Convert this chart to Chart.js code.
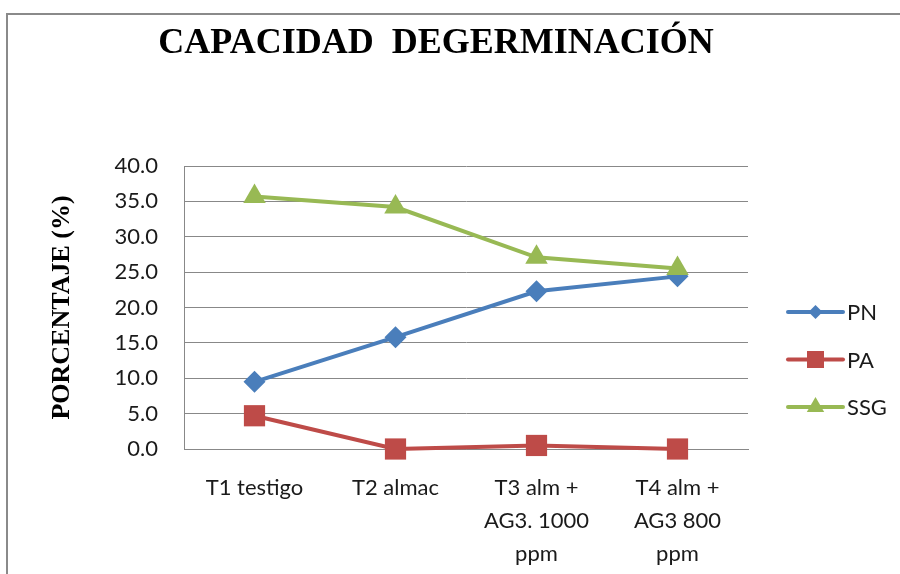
<!DOCTYPE html>
<html lang="es">
<head>
    <meta charset="UTF-8">
    <title>Capacidad de germinación</title>
    <script src="https://cdn.jsdelivr.net/npm/chart.js"></script>
    <style>
        body {
            margin: 0;
            background: #fff;
            overflow: hidden;
        }
        /* grey frame of the chart object */
        #frame {
            position: absolute;
            left: 6px;
            top: 13px;
            width: 1000px;
            height: 1000px;
            border: 2px solid #8a8a8a;
        }
        #chart {
            position: absolute;
            left: 0;
            top: 0;
        }
    </style>
</head>
<body>
    <div id="frame"></div>
    <canvas id="chart" width="900" height="574"></canvas>

    <script>
        // Data
        const categories = [
            ['T1 testigo'],
            ['T2 almac'],
            ['T3 alm +', 'AG3. 1000', 'ppm'],
            ['T4 alm +', 'AG3 800', 'ppm']
        ];
        const seriesNames = ['PN', 'PA', 'SSG'];
        const pnValues = [9.5, 15.8, 22.3, 24.4];
        const paValues = [4.7, 0.0, 0.5, 0.0];
        const ssgValues = [35.7, 34.2, 27.1, 25.5];
        const yMin = 0;
        const yMax = 40;
        const yStep = 5;

        const colors = ['#4a7ebb', '#be4b48', '#98b954'];
        const styles = ['rectRot', 'rect', 'triangle'];
        const radii = [11, 15, 13];
        const tickFont = { family: 'Lato', size: 22 };

        // small marker helper for the legend
        function marker(ctx, style, x, y, s) {
            ctx.beginPath();
            if (style === 'rectRot') {
                ctx.moveTo(x, y - s); ctx.lineTo(x + s, y);
                ctx.lineTo(x, y + s); ctx.lineTo(x - s, y);
            } else if (style === 'rect') {
                ctx.rect(x - s, y - s, 2 * s, 2 * s);
            } else {
                ctx.moveTo(x, y - s);
                ctx.lineTo(x + s * 0.87, y + s * 0.5);
                ctx.lineTo(x - s * 0.87, y + s * 0.5);
            }
            ctx.closePath();
            ctx.fill();
        }

        // title + legend drawn at fixed spots like the Excel layout
        const decor = {
            id: 'decor',
            afterDraw(chart) {
                const { ctx, chartArea } = chart;
                ctx.save();
                ctx.fillStyle = '#000';
                ctx.font = 'bold 36px "Liberation Serif"';
                ctx.textAlign = 'center';
                ctx.textBaseline = 'alphabetic';
                ctx.fillText('CAPACIDAD  DEGERMINACIÓN', 436, 53);

                const legendSizes = [7, 8.5, 10];
                chart.data.datasets.forEach((ds, i) => {
                    const y = chartArea.top + 146 + i * 47.5;
                    const x0 = chartArea.right + 40;
                    ctx.strokeStyle = ds.borderColor;
                    ctx.fillStyle = ds.borderColor;
                    ctx.lineWidth = 4;
                    ctx.lineCap = 'round';
                    ctx.beginPath();
                    ctx.moveTo(x0, y);
                    ctx.lineTo(x0 + 55, y);
                    ctx.stroke();
                    marker(ctx, ds.pointStyle, x0 + 27.5, y, legendSizes[i]);
                    ctx.fillStyle = '#1a1a1a';
                    ctx.font = '22px Lato';
                    ctx.textAlign = 'left';
                    ctx.textBaseline = 'middle';
                    ctx.fillText(ds.label, x0 + 59, y + 1);
                });
                ctx.restore();
            }
        };

        const seriesValues = [pnValues, paValues, ssgValues];
        const datasets = seriesNames.map((name, i) => ({
            label: name,
            data: seriesValues[i],
            borderColor: colors[i],
            backgroundColor: colors[i],
            pointBackgroundColor: colors[i],
            pointBorderWidth: 0,
            pointStyle: styles[i],
            pointRadius: radii[i],
            borderWidth: 4,
            tension: 0,
            clip: false,
            order: 2 - i
        }));

        new Chart(document.getElementById('chart'), {
            type: 'line',
            data: { labels: categories, datasets: datasets },
            plugins: [decor],
            options: {
                responsive: false,
                animation: false,
                layout: { padding: { top: 166, right: 152, bottom: 0, left: 47 } },
                plugins: {
                    legend: { display: false },
                    tooltip: { enabled: false }
                },
                scales: {
                    x: {
                        offset: true,
                        grid: { display: false },
                        border: { color: '#888', width: 1 },
                        ticks: {
                            font: { family: 'Lato', size: 22, lineHeight: 1.5 },
                            color: '#1a1a1a',
                            padding: 14,
                            maxRotation: 0,
                            autoSkip: false
                        },
                        afterFit(scale) { scale.height = 125; }
                    },
                    y: {
                        min: yMin,
                        max: yMax,
                        grid: { color: '#888', lineWidth: 1, drawTicks: false },
                        border: { color: '#888', width: 1 },
                        ticks: {
                            stepSize: yStep,
                            font: tickFont,
                            color: '#1a1a1a',
                            padding: 26,
                            callback: v => v.toFixed(1)
                        },
                        title: {
                            display: true,
                            text: 'PORCENTAJE (%)',
                            font: { family: 'Liberation Serif', size: 26, weight: 'bold' },
                            color: '#000',
                            padding: 0
                        },
                        afterFit(scale) { scale.width = 137; }
                    }
                }
            }
        });
    </script>
</body>
</html>
